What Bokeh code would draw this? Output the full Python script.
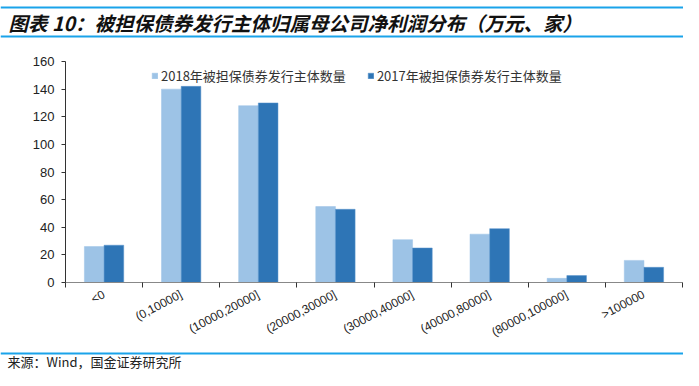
import math
from bokeh.plotting import figure
from bokeh.layouts import column
from bokeh.models import (ColumnDataSource, FixedTicker, Range1d, Span, Legend, LegendItem)
from bokeh.core.properties import value
from bokeh.transform import dodge
from bokeh.embed import file_html
from bokeh.resources import INLINE

categories = ["<0", "(0,10000]", "(10000,20000]", "(20000,30000]", "(30000,40000]",
              "(40000,80000]", "(80000,100000]", ">100000"]
v2018 = [26, 140, 128, 55, 31, 35, 3, 16]
v2017 = [27, 142, 130, 53, 25, 39, 5, 11]
series_names = ["2018年被担保债券发行主体数量", "2017年被担保债券发行主体数量"]
y_ticks = [0, 20, 40, 60, 80, 100, 120, 140, 160]
title_text = "图表 10：被担保债券发行主体归属母公司净利润分布（万元、家）"
source_text = "来源：Wind，国金证券研究所"

C18 = "#9DC3E6"
C17 = "#2E75B6"
LINE = "#1AA3EA"
CJK = "Noto Sans CJK SC"
W = 683
H_HEAD, H_MAIN, H_FOOT = 48, 301, 21


def blank(h):
    f = figure(width=W, height=h, output_backend="svg", toolbar_location=None,
               x_range=Range1d(0, W), y_range=Range1d(h, 0),
               x_axis_location=None, y_axis_location=None, frame_align=False,
               min_border=0, min_border_left=0, min_border_right=0,
               min_border_top=0, min_border_bottom=0)
    f.grid.visible = False
    f.outline_line_color = None
    return f


# ---- header
head = blank(H_HEAD)
head.add_layout(Span(location=7, dimension="width", line_color=LINE, line_width=2))
head.add_layout(Span(location=36, dimension="width", line_color=LINE, line_width=2))
head.text(x=[8], y=[22], text=[title_text], text_font=value(CJK), text_font_size="19.5px",
          text_font_style="bold italic", text_baseline="middle", text_color="#111111")

# ---- main chart
idx = list(range(len(categories)))
src = ColumnDataSource(dict(x=idx, v2018=v2018, v2017=v2017))

p = figure(width=W, height=H_MAIN, output_backend="svg", toolbar_location=None,
           x_range=Range1d(-0.5, len(categories) - 0.5), y_range=Range1d(0, 160),
           frame_align=False,
           min_border_left=65, min_border_right=1, min_border_top=13, min_border_bottom=67)
p.outline_line_color = None
p.xgrid.visible = False
p.ygrid.visible = False

bw = 0.255
r18 = p.vbar(x=dodge("x", -bw / 2, range=p.x_range), top="v2018", width=bw, source=src,
             fill_color=C18, line_color=C18, line_width=0.5)
r17 = p.vbar(x=dodge("x", bw / 2, range=p.x_range), top="v2017", width=bw, source=src,
             fill_color=C17, line_color="#5A95CC", line_width=0.5)

xa = p.xaxis[0]
xa.ticker = FixedTicker(ticks=idx, minor_ticks=[i - 0.5 for i in range(len(categories) + 1)])
xa.major_label_overrides = {i: c for i, c in zip(idx, categories)}
xa.major_tick_in = 0
xa.major_tick_out = 0
xa.minor_tick_in = 0
xa.minor_tick_out = 5
xa.minor_tick_line_color = "#333333"
xa.axis_line_color = "#888888"
xa.major_label_orientation = math.radians(28)
xa.major_label_text_font = "Liberation Sans"
xa.major_label_text_font_size = "12px"
xa.major_label_text_color = "#222222"
xa.major_label_standoff = 6

ya = p.yaxis[0]
ya.ticker = FixedTicker(ticks=y_ticks)
ya.major_tick_in = 0
ya.major_tick_out = 4
ya.minor_tick_out = 0
ya.minor_tick_in = 0
ya.axis_line_color = "#333333"
ya.major_tick_line_color = "#333333"
ya.major_label_text_font = "Liberation Sans"
ya.major_label_text_font_size = "13px"
ya.major_label_text_color = "#222222"
ya.major_label_standoff = 7

legend = Legend(items=[LegendItem(label=series_names[0], renderers=[r18]),
                       LegendItem(label=series_names[1], renderers=[r17])],
                orientation="horizontal", location=(86, 197),
                label_text_font=CJK, label_text_font_size="13px", label_text_color="#333333",
                glyph_width=7, glyph_height=7, label_standoff=3, spacing=21,
                padding=0, margin=0, border_line_color=None, background_fill_alpha=0)
p.add_layout(legend)

# ---- footer
foot = blank(H_FOOT)
foot.add_layout(Span(location=4, dimension="width", line_color=LINE, line_width=2))
foot.text(x=[7], y=[12], text=[source_text], text_font=value(CJK), text_font_size="13px",
          text_baseline="middle", text_color="#222222")

layout = column(head, p, foot, spacing=0)
open("out.html", "w").write(file_html(layout, INLINE))
